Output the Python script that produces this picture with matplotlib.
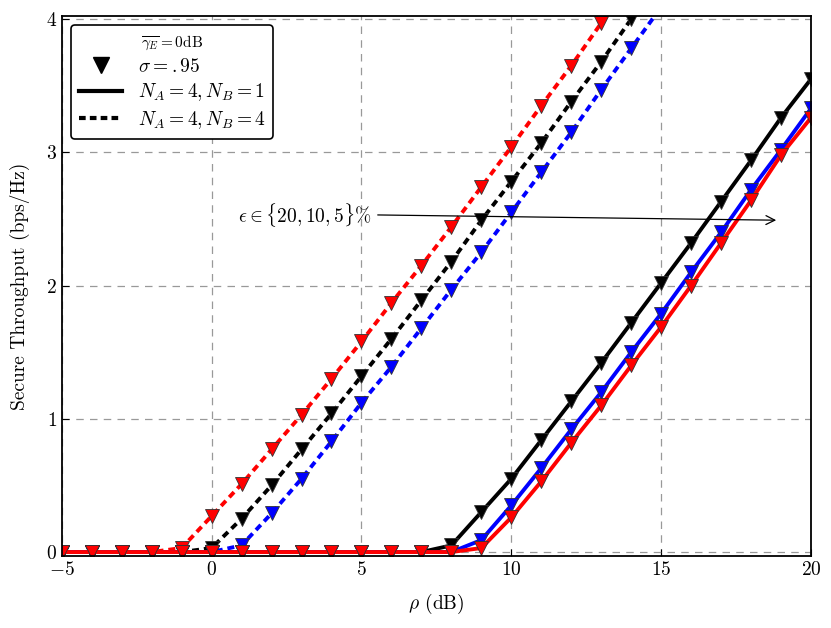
import matplotlib
matplotlib.use("Agg")
import matplotlib.pyplot as plt
from matplotlib.lines import Line2D

plt.rcParams['font.family'] = 'serif'
plt.rcParams['font.serif'] = ['cmr10']
plt.rcParams['mathtext.fontset'] = 'cm'
plt.rcParams['axes.formatter.use_mathtext'] = True

x = list(range(-5, 21))

# N_A=4, N_B=4 (dashed), eps = 20, 10, 5 %
nb4_eps20 = [0, 0, 0, 0, 0.03, 0.27, 0.51, 0.77, 1.03, 1.30, 1.58, 1.87, 2.15, 2.44, 2.74, 3.04, 3.35, 3.65, 3.97, 4.27, 4.58, 4.9, 5.2, 5.5, 5.8, 6.1]
nb4_eps10 = [0, 0, 0, 0, 0, 0.03, 0.25, 0.50, 0.77, 1.04, 1.32, 1.60, 1.89, 2.18, 2.49, 2.78, 3.07, 3.38, 3.68, 4.0, 4.3, 4.6, 4.9, 5.2, 5.5, 5.8]
nb4_eps5 = [0, 0, 0, 0, 0, 0, 0.05, 0.29, 0.55, 0.83, 1.12, 1.39, 1.68, 1.97, 2.25, 2.55, 2.85, 3.15, 3.47, 3.78, 4.09, 4.4, 4.7, 5.0, 5.3, 5.6]
# N_A=4, N_B=1 (solid)
nb1_eps20 = [0]*13 + [0.05, 0.30, 0.55, 0.84, 1.13, 1.42, 1.72, 2.02, 2.32, 2.63, 2.94, 3.26, 3.55]
nb1_eps10 = [0]*14 + [0.09, 0.35, 0.63, 0.92, 1.20, 1.50, 1.79, 2.10, 2.40, 2.72, 3.02, 3.33]
nb1_eps5 = [0]*14 + [0.03, 0.26, 0.53, 0.82, 1.10, 1.40, 1.69, 2.00, 2.32, 2.64, 2.98, 3.26]

fig = plt.figure(figsize=(8.31, 6.28), dpi=100)
ax = fig.add_axes([0.0743, 0.1146, 0.9017, 0.8604])

lw = 2.8
ms = 10
mk = dict(marker='v', markersize=ms, markeredgecolor='#333333', markeredgewidth=0.6)
ds = (0, (1.8, 1.25))

ax.plot(x, nb4_eps5, color='blue', lw=lw, linestyle=ds, markerfacecolor='blue', **mk)
ax.plot(x, nb4_eps10, color='black', lw=lw, linestyle=ds, markerfacecolor='black', **mk)
ax.plot(x, nb4_eps20, color='red', lw=lw, linestyle=ds, markerfacecolor='red', **mk)
ax.plot(x, nb1_eps20, color='black', lw=lw, linestyle='-', markerfacecolor='black', **mk)
ax.plot(x, nb1_eps10, color='blue', lw=lw, linestyle='-', markerfacecolor='blue', **mk)
ax.plot(x, nb1_eps5, color='red', lw=lw, linestyle='-', markerfacecolor='red', **mk)

ax.set_xlim(-5, 20)
ax.set_ylim(-0.03, 4.025)
ax.set_xticks([-5, 0, 5, 10, 15, 20])
ax.set_yticks([0, 1, 2, 3, 4])
ax.grid(True, linestyle=(0, (6, 5)), color='#999999', linewidth=0.9)
ax.tick_params(direction='in', labelsize=14, length=5)
for s in ax.spines.values():
    s.set_linewidth(1.3)

ax.set_xlabel(r'$\rho$ (dB)', fontsize=14, labelpad=9)
ax.set_ylabel('Secure Throughput (bps/Hz)', fontsize=14, labelpad=11)

ax.annotate('', xy=(18.93, 2.49), xytext=(5.45, 2.53),
            arrowprops=dict(arrowstyle='->', color='black', lw=0.9, mutation_scale=16))
ax.text(5.35, 2.53, r'$\epsilon \in \{20, 10, 5\}\%$', fontsize=14, ha='right', va='center')

handles = [
    Line2D([], [], linestyle='none', marker='v', markersize=12, color='black'),
    Line2D([], [], color='black', lw=3),
    Line2D([], [], color='black', lw=3, linestyle=(0, (1.6, 1.0))),
]
labels = [r'$\sigma = .95$', r'$N_A = 4, N_B = 1$', r'$N_A = 4, N_B = 4$']
leg = ax.legend(handles, labels, loc='upper left', fontsize=14,
                title=r'$\overline{\gamma_E} = 0$dB', title_fontsize=11,
                frameon=True, fancybox=True, edgecolor='black', framealpha=1,
                borderaxespad=0.5, handlelength=2.2, labelspacing=0.3)
leg.get_frame().set_linewidth(1.2)

fig.savefig('out.png', dpi=100)
